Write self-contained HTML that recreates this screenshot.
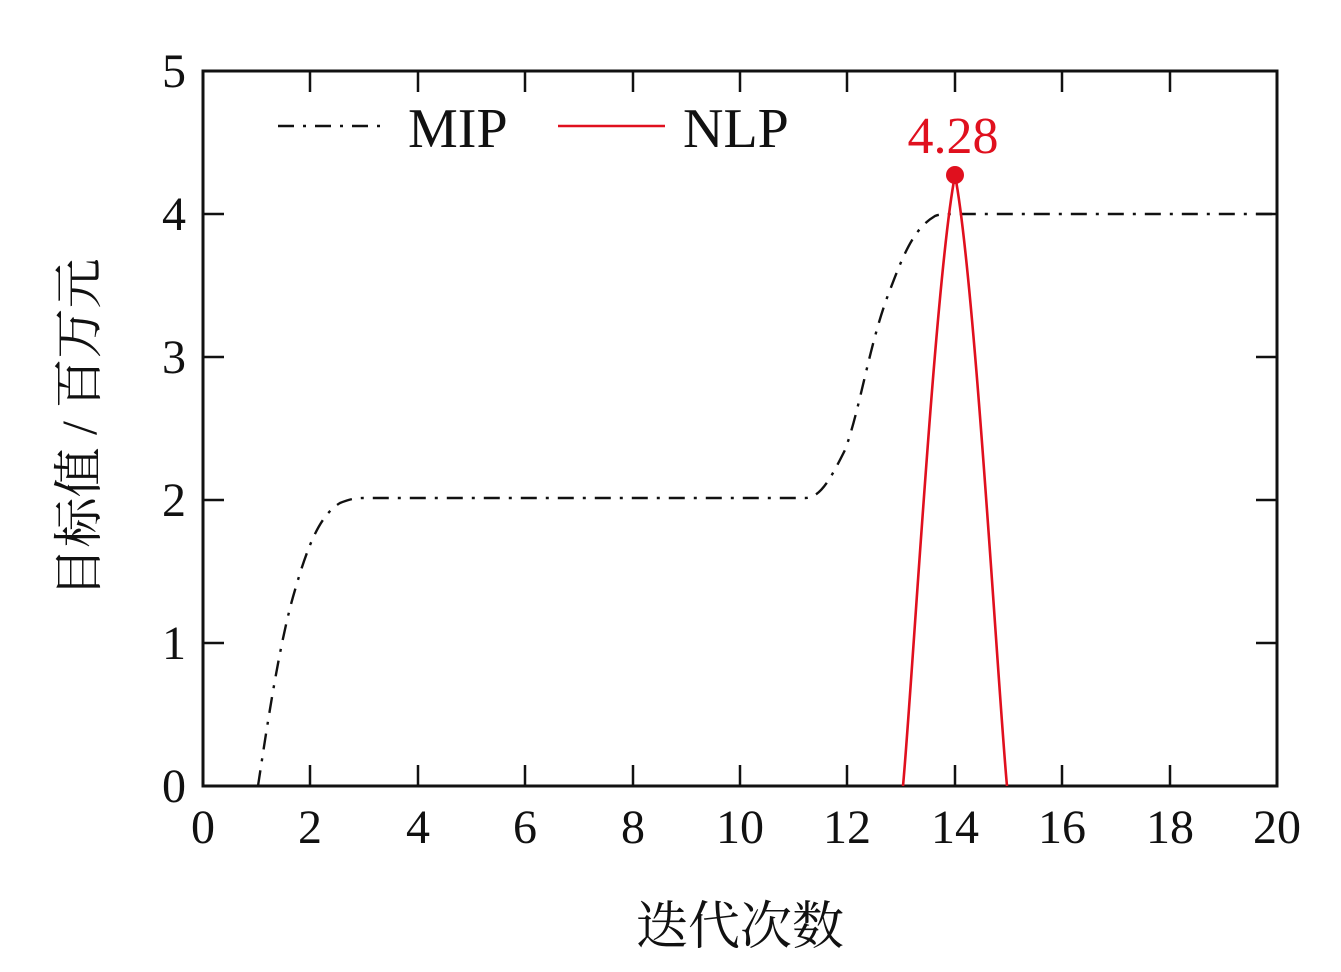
<!DOCTYPE html>
<html><head><meta charset="utf-8"><style>body{margin:0;background:#fff}svg{display:block}svg text{font-family:"Liberation Serif","Noto Serif CJK SC",serif}</style></head><body>
<svg width="1341" height="972" viewBox="0 0 1341 972" xmlns="http://www.w3.org/2000/svg">
<g stroke="#111" stroke-width="2.5">
<line x1="203" y1="71" x2="203" y2="92"/><line x1="310" y1="71" x2="310" y2="92"/><line x1="418" y1="71" x2="418" y2="92"/><line x1="525" y1="71" x2="525" y2="92"/><line x1="633" y1="71" x2="633" y2="92"/><line x1="740" y1="71" x2="740" y2="92"/><line x1="847" y1="71" x2="847" y2="92"/><line x1="955" y1="71" x2="955" y2="92"/><line x1="1062" y1="71" x2="1062" y2="92"/><line x1="1170" y1="71" x2="1170" y2="92"/>
<line x1="310" y1="786" x2="310" y2="765"/><line x1="418" y1="786" x2="418" y2="765"/><line x1="525" y1="786" x2="525" y2="765"/><line x1="633" y1="786" x2="633" y2="765"/><line x1="740" y1="786" x2="740" y2="765"/><line x1="847" y1="786" x2="847" y2="765"/><line x1="955" y1="786" x2="955" y2="765"/><line x1="1062" y1="786" x2="1062" y2="765"/><line x1="1170" y1="786" x2="1170" y2="765"/>
<line x1="203" y1="643" x2="224" y2="643"/><line x1="203" y1="500" x2="224" y2="500"/><line x1="203" y1="357" x2="224" y2="357"/><line x1="203" y1="214" x2="224" y2="214"/>
<line x1="1277" y1="643" x2="1256" y2="643"/><line x1="1277" y1="500" x2="1256" y2="500"/><line x1="1277" y1="357" x2="1256" y2="357"/><line x1="1277" y1="214" x2="1256" y2="214"/>
</g>
<rect x="203" y="71" width="1074" height="715" fill="none" stroke="#111" stroke-width="3"/>
<path d="M258,786 C268,720 280,640 295,590 C308,545 320,515 340,503 C350,499 355,498 365,498 L805,498 C820,498 830,480 845,450 C860,410 870,340 890,290 C905,250 915,228 935,216 C940,214 945,214 955,214 L1277,214" fill="none" stroke="#111" stroke-width="2.4" stroke-dasharray="16,9,3,9"/>
<path d="M903,786 C912,690 935,280 955,175 C975,280 998,690 1007,786" fill="none" stroke="#e0101e" stroke-width="2.6"/>
<circle cx="955" cy="175" r="9" fill="#e0101e"/>
<text x="953" y="153" font-size="52" fill="#e0101e" text-anchor="middle">4.28</text>
<line x1="278" y1="126" x2="385" y2="126" stroke="#111" stroke-width="2.4" stroke-dasharray="16,9,3,9"/>
<text x="408" y="147" font-size="56" fill="#111">MIP</text>
<line x1="558" y1="126" x2="665" y2="126" stroke="#e0101e" stroke-width="2.6"/>
<text x="683" y="147" font-size="56" fill="#111">NLP</text>
<g font-size="48" fill="#111" text-anchor="middle">
<text x="203" y="843">0</text><text x="310" y="843">2</text><text x="418" y="843">4</text><text x="525" y="843">6</text><text x="633" y="843">8</text><text x="740" y="843">10</text><text x="847" y="843">12</text><text x="955" y="843">14</text><text x="1062" y="843">16</text><text x="1170" y="843">18</text><text x="1277" y="843">20</text>
</g>
<g font-size="48" fill="#111" text-anchor="end">
<text x="186" y="802">0</text><text x="186" y="659">1</text><text x="186" y="516">2</text><text x="186" y="373">3</text><text x="186" y="230">4</text><text x="186" y="87">5</text>
</g>
<text x="740" y="944" font-size="52" fill="#111" text-anchor="middle">迭代次数</text>
<text transform="translate(96,428) rotate(-90)" font-size="50" fill="#111" text-anchor="middle">目标值 / 百万元</text>
</svg>
</body></html>
